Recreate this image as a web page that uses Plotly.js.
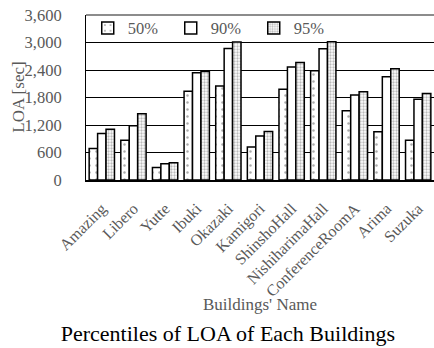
<!DOCTYPE html>
<html>
<head>
<meta charset="utf-8">
<script src="https://cdn.plot.ly/plotly-3.0.1.min.js"></script>
<style>
  html, body { margin: 0; padding: 0; background: #fff; }
  #chart { width: 434px; height: 348px; }
</style>
</head>
<body>
<div id="chart"></div>
<script>
// Buildings and their LOA percentiles (seconds)
const buildings = ['Amazing', 'Libero', 'Yutte', 'Ibuki', 'Okazaki', 'Kamigori',
  'ShinshoHall', 'NishiharimaHall', 'ConferenceRoomA', 'Arima', 'Suzuka'];
const p50 = [690, 865, 275, 1935, 2050, 720, 1980, 2385, 1510, 1055, 865];
const p90 = [1015, 1185, 355, 2340, 2870, 960, 2465, 2865, 1855, 2255, 1760];
const p95 = [1110, 1445, 378, 2370, 3010, 1060, 2565, 3015, 1925, 2430, 1890];
const seriesNames = ['50%', '90%', '95%'];
const yTicks = [0, 600, 1200, 1800, 2400, 3000, 3600];
const yTickText = ['0', '600', '1,200', '1,800', '2,400', '3,000', '3,600'];

const serif = 'Liberation Serif, Times New Roman, serif';
const gray = '#595959';
const outline = { color: '#000', width: 1.5 };

const traces = [
  {
    type: 'bar', name: seriesNames[0], x: buildings, y: p50,
    marker: { color: '#fff', line: outline,
      pattern: { shape: '.', size: 7, solidity: 0.1, fgcolor: '#555', bgcolor: '#fff', fillmode: 'overlay' } }
  },
  {
    type: 'bar', name: seriesNames[1], x: buildings, y: p90,
    marker: { color: '#fff', line: outline }
  },
  {
    type: 'bar', name: seriesNames[2], x: buildings, y: p95,
    marker: { color: '#fff', line: outline,
      pattern: { shape: '.', size: 3, solidity: 0.45, fgcolor: '#777', bgcolor: '#fff', fillmode: 'overlay' } }
  }
];

const layout = {
  width: 434, height: 348,
  margin: { l: 86, r: 0, t: 15, b: 168 },
  paper_bgcolor: '#fff', plot_bgcolor: '#fff',
  font: { family: serif, size: 16, color: gray },
  barmode: 'group', bargap: 0.2, bargroupgap: 0,
  showlegend: true,
  legend: {
    orientation: 'h', x: 0.005, xanchor: 'left', y: 0.92, yanchor: 'middle',
    font: { family: serif, size: 16.5, color: gray },
    bgcolor: 'rgba(0,0,0,0)', traceorder: 'normal',
    entrywidth: 38, entrywidthmode: 'pixels', itemwidth: 30
  },
  title: {
    text: 'Percentiles of LOA of Each Buildings',
    font: { family: serif, size: 22, color: '#000' },
    x: 0.525, xanchor: 'center', xref: 'container',
    y: 0.043, yanchor: 'middle', yref: 'container'
  },
  xaxis: {
    type: 'category', tickangle: -45,
    tickfont: { family: serif, size: 16, color: gray },
    showline: true, linecolor: '#000', linewidth: 2,
    ticks: '', showgrid: false, ticklabelstandoff: 11
  },
  yaxis: {
    range: [0, 3600], tickvals: yTicks, ticktext: yTickText,
    tickfont: { family: serif, size: 16.5, color: gray },
    showgrid: true, gridcolor: '#000', gridwidth: 1,
    showline: true, linecolor: '#000', linewidth: 1,
    ticks: '', ticklabelstandoff: 20, zeroline: false
  },
  annotations: [
    // axis titles
    { text: "Buildings' Name", xref: 'paper', yref: 'paper', x: 0.5, y: -0.752,
      xanchor: 'center', yanchor: 'middle', showarrow: false,
      font: { family: serif, size: 17, color: gray } },
    { text: 'LOA [sec]', xref: 'paper', yref: 'paper', x: -0.195, y: 0.5,
      xanchor: 'center', yanchor: 'middle', textangle: -90, showarrow: false,
      font: { family: serif, size: 17, color: gray } }
  ],
  shapes: [
    { type: 'line', xref: 'paper', yref: 'paper', x0: 0, x1: 1, y0: 1, y1: 1,
      line: { color: '#8c8c8c', width: 2 } }
  ]
};

Plotly.newPlot('chart', traces, layout, { staticPlot: true, displayModeBar: false });
</script>
</body>
</html>
